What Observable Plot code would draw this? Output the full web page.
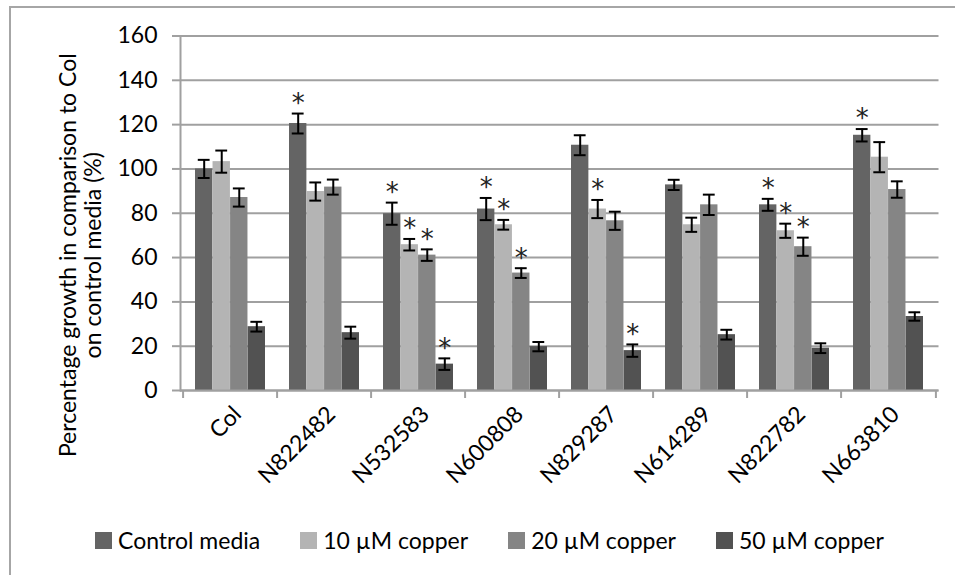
<!DOCTYPE html>
<html>
<head>
<meta charset="utf-8">
<script src="https://cdn.jsdelivr.net/npm/d3@7"></script>
<script src="https://cdn.jsdelivr.net/npm/@observablehq/plot@0.6"></script>
<style>
  html, body { margin: 0; padding: 0; background: #fff; overflow: hidden; }
  #wrap { position: relative; width: 955px; height: 575px; font-family: Lato, sans-serif; }
  #border { position: absolute; left: 9px; top: 6px; width: 1000px; height: 1000px;
            border-left: 2px solid #a6a6a6; border-top: 2px solid #a6a6a6; pointer-events: none; }
  #chart { position: absolute; left: 0; top: 0; }
  #legend { position: absolute; left: 95px; top: 526px; display: flex; gap: 40px;
            font-size: 23px; color: #000; white-space: nowrap; }
  #legend .item { display: flex; align-items: center; }
  #legend .sw { width: 17px; height: 17px; margin-right: 6px; }
</style>
</head>
<body>
<div id="wrap">
  <div id="chart"></div>
  <div id="legend"></div>
  <div id="border"></div>
</div>
<script>
// ---- data ----
const categories = ["Col", "N822482", "N532583", "N600808", "N829287", "N614289", "N822782", "N663810"];
const series = ["Control media", "10 µM copper", "20 µM copper", "50 µM copper"];
const controlMedia = [100, 120.5, 79.8, 81.9, 110.7, 92.8, 83.8, 115.2];
const copper10 = [103.3, 89.8, 65.8, 74.8, 81.9, 74.8, 72.1, 105.3];
const copper20 = [87.1, 91.8, 61.1, 53.0, 76.6, 83.8, 64.9, 90.7];
const copper50 = [28.8, 26.1, 11.9, 19.8, 18.0, 25.2, 19.1, 33.4];
const controlErr = [4.1, 4.5, 5.0, 5.0, 4.5, 2.3, 2.7, 2.8];
const copper10Err = [5.0, 4.1, 2.6, 2.2, 4.1, 3.2, 3.2, 6.8];
const copper20Err = [4.1, 3.4, 2.6, 2.2, 4.1, 4.6, 4.1, 3.7];
const copper50Err = [2.2, 2.7, 2.6, 2.1, 2.8, 2.2, 2.2, 1.9];
const controlSig = [false, true, true, true, false, false, true, true];
const copper10Sig = [false, false, true, true, true, false, true, false];
const copper20Sig = [false, false, true, true, false, false, true, false];
const copper50Sig = [false, false, true, false, true, false, false, false];
const yTicks = [0, 20, 40, 60, 80, 100, 120, 140, 160];
const yTitle = "Percentage growth in comparison to Col\non control media (%)";
const colors = ["#646464", "#b4b4b4", "#858585", "#525252"];

const values = [controlMedia, copper10, copper20, copper50];
const errs = [controlErr, copper10Err, copper20Err, copper50Err];
const sigs = [controlSig, copper10Sig, copper20Sig, copper50Sig];

const rows = [];
categories.forEach((c, i) => series.forEach((s, k) => rows.push({
  category: c, series: s, k, value: values[k][i], err: errs[k][i], sig: sigs[k][i]
})));

// ---- layout ----
const W = 955, H = 520;
const mL = 180, mR = 16.5, mT = 35.5, mB = H - 390;
const padIn = 0.26;
const step = (W - mL - mR) / categories.length;
const band = step * (1 - padIn);
const bw = band / series.length;
const capW = 12;
const gridColor = "#a0a0a0";

const marks = [
  Plot.gridY(yTicks, {stroke: gridColor, strokeOpacity: 1, strokeWidth: 2}),
  Plot.axisY(yTicks, {tickSize: 8, tickPadding: 15, stroke: gridColor, strokeWidth: 2,
    fill: "#000", fontSize: 23, label: null}),
];
series.forEach((s, k) => {
  const d = rows.filter(r => r.k === k);
  marks.push(Plot.barY(d, {x: "category", y: "value", fill: colors[k],
    insetLeft: k * bw, insetRight: (series.length - 1 - k) * bw}));
});
marks.push(Plot.ruleY([0], {stroke: gridColor, strokeWidth: 2}));
marks.push(Plot.frame({anchor: "left", stroke: gridColor, strokeWidth: 2}));
series.forEach((s, k) => {
  const d = rows.filter(r => r.k === k);
  const off = (k - 1.5) * bw;
  const capL = (k + 0.5) * bw - capW / 2;
  const capR = band - (k + 0.5) * bw - capW / 2;
  marks.push(Plot.ruleX(d, {x: "category", y1: r => r.value - r.err, y2: r => r.value + r.err,
    dx: off, stroke: "#000", strokeWidth: 2}));
  marks.push(Plot.tickY(d, {x: "category", y: r => r.value - r.err, insetLeft: capL, insetRight: capR,
    stroke: "#000", strokeWidth: 2}));
  marks.push(Plot.tickY(d, {x: "category", y: r => r.value + r.err, insetLeft: capL, insetRight: capR,
    stroke: "#000", strokeWidth: 2}));
  marks.push(Plot.text(d.filter(r => r.sig), {x: "category", y: r => r.value + r.err, text: () => "*",
    dx: off, dy: -10, fontSize: 26, fontFamily: "DejaVu Sans", fill: "#222", lineAnchor: "middle"}));
});
marks.push(Plot.axisX({tickSize: 0, tickRotate: -45, tickPadding: 20, dx: 7, fontSize: 23, fill: "#000", label: null}));
marks.push(Plot.axisX(categories, {tickSize: 8, tickFormat: () => "", dx: -step / 2, stroke: gridColor, strokeWidth: 2, label: null}));
marks.push(Plot.axisX([categories[categories.length - 1]], {tickSize: 8, tickFormat: () => "", dx: step / 2, stroke: gridColor, strokeWidth: 2, label: null}));
marks.push(Plot.text([yTitle], {frameAnchor: "left", rotate: -90, dx: -100, dy: 42,
  fontSize: 23, lineHeight: 1.1, fill: "#000", textAnchor: "middle", lineAnchor: "middle"}));

const chart = Plot.plot({
  width: W, height: H,
  marginLeft: mL, marginRight: mR, marginTop: mT, marginBottom: mB,
  style: {fontFamily: "Lato, sans-serif", fontSize: "23px", color: "#000", background: "transparent", overflow: "visible"},
  x: {domain: categories, paddingInner: padIn, paddingOuter: padIn / 2, axis: null},
  y: {domain: [0, 160], axis: null},
  marks
});
document.getElementById("chart").appendChild(chart);

const legend = document.getElementById("legend");
series.forEach((s, k) => {
  const item = document.createElement("div");
  item.className = "item";
  const sw = document.createElement("span");
  sw.className = "sw";
  sw.style.background = colors[k];
  const t = document.createElement("span");
  t.textContent = s;
  item.appendChild(sw);
  item.appendChild(t);
  legend.appendChild(item);
});
</script>
</body>
</html>
